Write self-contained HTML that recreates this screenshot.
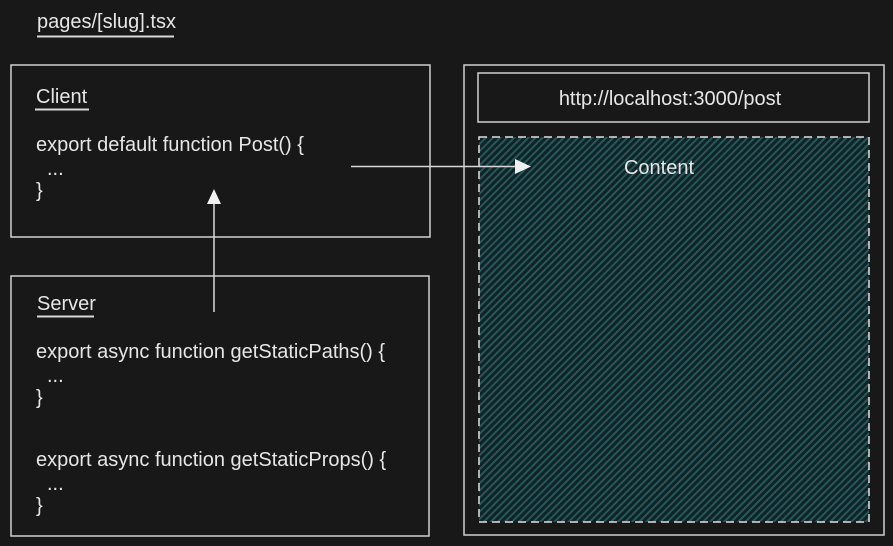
<!DOCTYPE html>
<html><head><meta charset="utf-8"><style>
html,body{margin:0;padding:0;background:#181818;}
svg{display:block;}
text{font-family:"Liberation Sans",sans-serif;fill:#e6e6e6;font-size:20px;}
</style></head><body>
<svg width="893" height="546" viewBox="0 0 893 546">
<defs>
<pattern id="hatch" width="5" height="5" patternUnits="userSpaceOnUse" patternTransform="rotate(45)">
<rect width="5" height="5" fill="#152224"/>
<rect width="2" height="5" fill="#205a60"/>
</pattern>
</defs>
<rect width="893" height="546" fill="#181818"/>
<g>
<text x="37" y="28">pages/[slug].tsx</text>
<line x1="37" y1="36.5" x2="174" y2="36.5" stroke="#d8d8d8" stroke-width="2"/>
</g>
<g>
<rect x="11" y="65" width="419" height="172" fill="none" stroke="#d0d0d0" stroke-width="1.5"/>
<text x="36" y="103">Client</text>
<line x1="35" y1="109.5" x2="89" y2="109.5" stroke="#d8d8d8" stroke-width="2"/>
<text x="36" y="151">export default function Post() {</text>
<text x="47" y="175">...</text>
<text x="36" y="197">}</text>
</g>
<g>
<rect x="11" y="276" width="418" height="260" fill="none" stroke="#d0d0d0" stroke-width="1.5"/>
<text x="37" y="310">Server</text>
<line x1="37" y1="316.5" x2="94" y2="316.5" stroke="#d8d8d8" stroke-width="2"/>
<text x="36" y="358">export async function getStaticPaths() {</text>
<text x="47" y="382">...</text>
<text x="36" y="404">}</text>
<text x="36" y="466">export async function getStaticProps() {</text>
<text x="47" y="490">...</text>
<text x="36" y="512">}</text>
</g>
<g>
<rect x="464" y="65" width="420" height="470" fill="none" stroke="#d0d0d0" stroke-width="1.5"/>
<rect x="478" y="73" width="391" height="49" fill="none" stroke="#d0d0d0" stroke-width="1.5"/>
<text x="670" y="105" text-anchor="middle">http://localhost:3000/post</text>
<rect x="479" y="137" width="390" height="385" fill="url(#hatch)" stroke="#e0e0e0" stroke-width="1.5" stroke-dasharray="8 5"/>
<text x="659" y="174" text-anchor="middle">Content</text>
</g>
<g>
<line x1="351" y1="166.5" x2="516" y2="166.5" stroke="#d8d8d8" stroke-width="1.5"/>
<polygon points="531,166.5 515,159 515,174" fill="#f0f0f0"/>
</g>
<g>
<line x1="214" y1="312" x2="214" y2="203" stroke="#d8d8d8" stroke-width="1.5"/>
<polygon points="214,189 207,204 221,204" fill="#f0f0f0"/>
</g>
</svg>
</body></html>
